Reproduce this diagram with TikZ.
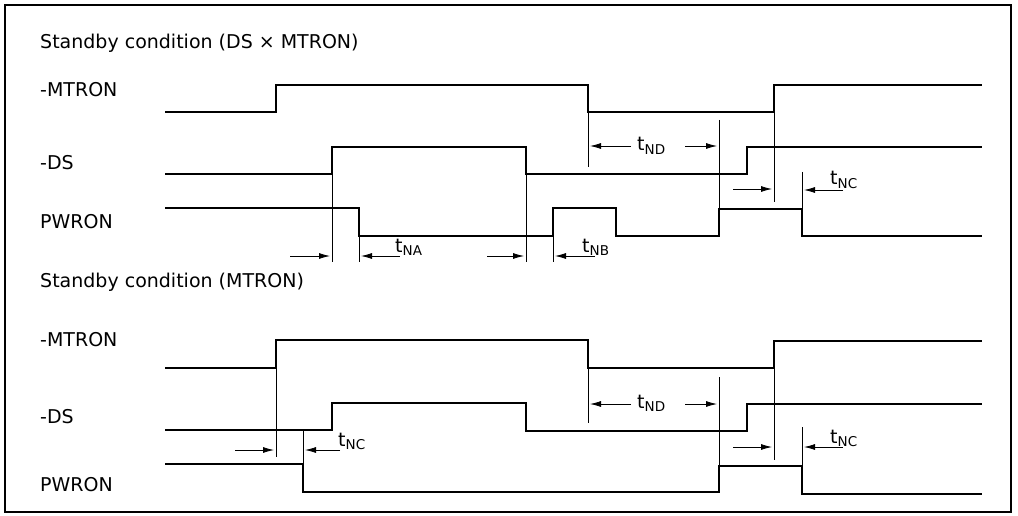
\documentclass[tikz,border=0pt]{standalone}
\usepackage{fontspec}
\setmainfont{DejaVu Sans}
\usetikzlibrary{arrows.meta}
\newcommand{\tsub}[1]{t\raisebox{-0.3ex}{\fontsize{13.5}{14}\selectfont #1}}

\begin{document}
\begin{tikzpicture}[x=1pt, y=-1pt,
    wave/.style={line width=2.7pt},
    guide/.style={line width=0.7pt},
    dimarrow/.style={line width=0.8pt, -{Latex[length=11pt,width=6pt]}},
    lbl/.style={anchor=west, inner sep=0pt, font=\fontsize{19}{22}\selectfont},
    tlbl/.style={anchor=base west, inner sep=0pt, font=\fontsize{19}{22}\selectfont}]
    \useasboundingbox (0,0) rectangle (1018,516);
    \draw[line width=1.8pt] (5,5) rectangle (1011,512);

    % upper diagram: standby condition (DS x MTRON)
    \node[lbl] (titleA) at (40,43) {Standby condition (DS × MTRON)};
    \node[lbl] (mtronA) at (40,90) {-MTRON};
    \node[lbl] (dsA) at (40,163) {-DS};
    \node[lbl] (pwronA) at (40,222) {PWRON};

    \draw[wave] (165,112) -- (276,112) -- (276,85) -- (588,85) -- (588,112)
        -- (774,112) -- (774,85) -- (982,85);
    \draw[wave] (165,174) -- (332,174) -- (332,147) -- (526,147) -- (526,174)
        -- (747,174) -- (747,147) -- (982,147);
    \draw[wave] (165,208) -- (359,208) -- (359,236) -- (553,236) -- (553,208)
        -- (616,208) -- (616,236) -- (719,236) -- (719,209) -- (802,209)
        -- (802,236) -- (982,236);

    \draw[guide] (332,147) -- (332,262);
    \draw[guide] (359,236) -- (359,262);
    \draw[guide] (526,174) -- (526,262);
    \draw[guide] (553,236) -- (553,262);
    \draw[guide] (588,112) -- (588,167);
    \draw[guide] (719,120) -- (719,209);
    \draw[guide] (774,85) -- (774,202);
    \draw[guide] (802,172) -- (802,209);

    \draw[dimarrow] (290,256) -- (330,256);
    \draw[dimarrow] (400,256) -- (361,256);
    \node[tlbl] (tna) at (395,252) {\tsub{NA}};
    \draw[dimarrow] (487,256) -- (524,256);
    \draw[dimarrow] (595,256) -- (555,256);
    \node[tlbl] (tnb) at (582,252) {\tsub{NB}};

    \node[tlbl] (tndA) at (637,151) {\tsub{ND}};
    \draw[dimarrow] (631,146) -- (590,146);
    \draw[dimarrow] (685,146) -- (717,146);

    \draw[dimarrow] (733,189) -- (772,189);
    \draw[dimarrow] (843,190) -- (804,190);
    \node[tlbl] (tncA) at (830,185) {\tsub{NC}};

    % lower diagram: standby condition (MTRON)
    \node[lbl] (titleB) at (40,282) {Standby condition (MTRON)};
    \node[lbl] (mtronB) at (40,340) {-MTRON};
    \node[lbl] (dsB) at (40,417) {-DS};
    \node[lbl] (pwronB) at (40,485) {PWRON};

    \draw[wave] (165,368) -- (276,368) -- (276,340) -- (588,340) -- (588,368)
        -- (774,368) -- (774,341) -- (982,341);
    \draw[wave] (165,430) -- (332,430) -- (332,403) -- (526,403) -- (526,431)
        -- (747,431) -- (747,404) -- (982,404);
    \draw[wave] (165,464) -- (303,464) -- (303,492) -- (719,492) -- (719,466)
        -- (802,466) -- (802,494) -- (982,494);

    \draw[guide] (276,340) -- (276,457);
    \draw[guide] (303,430) -- (303,464);
    \draw[guide] (588,368) -- (588,423);
    \draw[guide] (719,377) -- (719,466);
    \draw[guide] (774,341) -- (774,460);
    \draw[guide] (802,427) -- (802,466);

    \draw[dimarrow] (235,450) -- (274,450);
    \draw[dimarrow] (340,450) -- (305,450);
    \node[tlbl] (tncB) at (338,446) {\tsub{NC}};

    \node[tlbl] (tndB) at (637,408) {\tsub{ND}};
    \draw[dimarrow] (631,404) -- (590,404);
    \draw[dimarrow] (685,404) -- (717,404);

    \draw[dimarrow] (733,447) -- (772,447);
    \draw[dimarrow] (843,447) -- (804,447);
    \node[tlbl] (tncC) at (830,443) {\tsub{NC}};
\end{tikzpicture}
\end{document}
